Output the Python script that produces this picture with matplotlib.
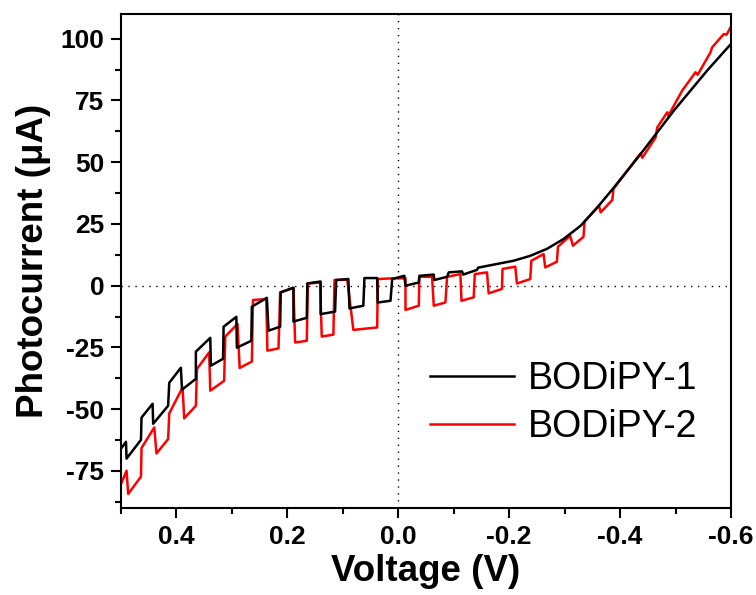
import matplotlib
matplotlib.use("Agg")
import matplotlib.pyplot as plt
from matplotlib.ticker import MultipleLocator, FormatStrFormatter

plt.rcParams['font.family'] = ['Liberation Sans', 'DejaVu Sans']
plt.rcParams['axes.unicode_minus'] = False

# BODiPY-1 (black) chopped-light I-V trace
v1 = [0.500, 0.491, 0.490, 0.464, 0.463, 0.443, 0.442, 0.415, 0.413, 0.392,
      0.390, 0.365, 0.365, 0.339, 0.338, 0.316, 0.315, 0.292, 0.291, 0.265,
      0.264, 0.237, 0.234, 0.213, 0.212, 0.189, 0.189, 0.165, 0.164, 0.140,
      0.140, 0.114, 0.112, 0.090, 0.088, 0.063, 0.061, 0.038, 0.037, 0.014,
      0.011, -0.011, -0.013, -0.037, -0.038, -0.064, -0.065, -0.088, -0.091, -0.115,
      -0.117, -0.142, -0.144, -0.178, -0.208, -0.238, -0.268, -0.298, -0.329, -0.359,
      -0.389, -0.437, -0.497, -0.557, -0.600]
i1 = [-66.0, -63.2, -70.0, -62.4, -53.4, -47.8, -55.9, -48.6, -39.3, -33.2,
      -42.1, -37.7, -26.7, -21.1, -32.4, -29.6, -16.6, -12.6, -25.1, -22.3,
      -8.5, -4.9, -18.2, -16.6, -2.7, -0.8, -14.5, -13.0, 0.9, 1.7,
      -11.5, -10.5, 2.3, 2.7, -9.2, -8.1, 3.1, 3.1, -6.8, -6.1,
      2.7, 4.0, 0.0, 1.3, 4.0, 4.5, 2.3, 3.6, 5.4, 5.8,
      4.5, 6.4, 7.3, 8.8, 10.1, 12.1, 14.9, 18.9, 24.3, 31.7,
      39.8, 53.3, 70.9, 87.1, 97.9]

# BODiPY-2 (red) chopped-light I-V trace
v2 = [0.500, 0.490, 0.487, 0.464, 0.463, 0.440, 0.436, 0.415, 0.413, 0.389,
      0.386, 0.365, 0.363, 0.341, 0.339, 0.314, 0.312, 0.290, 0.286, 0.264,
      0.262, 0.238, 0.236, 0.216, 0.213, 0.189, 0.186, 0.165, 0.163, 0.141,
      0.138, 0.117, 0.115, 0.092, 0.081, 0.038, 0.037, 0.008, -0.013, -0.013,
      -0.037, -0.038, -0.061, -0.064, -0.085, -0.088, -0.112, -0.114, -0.136, -0.138,
      -0.160, -0.163, -0.187, -0.188, -0.211, -0.214, -0.238, -0.240, -0.262, -0.265,
      -0.286, -0.288, -0.310, -0.315, -0.334, -0.336, -0.362, -0.365, -0.386, -0.388,
      -0.437, -0.440, -0.464, -0.467, -0.485, -0.487, -0.512, -0.536, -0.540, -0.563,
      -0.566, -0.587, -0.592, -0.600]
i2 = [-80.3, -74.9, -84.3, -77.3, -65.7, -57.4, -67.9, -62.1, -51.7, -41.2,
      -53.7, -48.6, -33.7, -27.0, -42.5, -38.5, -20.6, -15.5, -33.3, -30.7,
      -5.8, -5.4, -26.3, -25.4, -2.7, -0.9, -23.0, -22.3, 0.9, 1.3,
      -20.6, -19.8, 2.3, 2.4, -17.9, -16.9, 2.7, 3.0, 3.0, -9.8,
      -8.1, 3.6, 3.6, -8.1, -6.8, 3.6, 4.7, -6.1, -4.7, 4.7,
      5.4, -3.1, -1.3, 6.8, 7.7, 0.9, 2.7, 10.1, 12.8, 7.4,
      9.7, 15.8, 20.2, 16.2, 19.8, 26.0, 32.4, 29.7, 34.7, 39.2,
      53.6, 51.8, 60.0, 64.1, 70.2, 68.8, 79.0, 86.4, 85.4, 94.5,
      96.5, 101.9, 101.6, 104.9]

labels = ['BODiPY-1', 'BODiPY-2']
colors = ['black', '#ff0000']

fig = plt.figure(figsize=(7.56, 5.95), dpi=100)
ax = fig.add_axes([121/756, 1 - 508/595, (731 - 121)/756, (508 - 14)/595])

ax.axhline(0, color='black', lw=1.0, ls=(0, (1, 4)), zorder=1)
ax.axvline(0, color='black', lw=1.0, ls=(0, (1, 4)), zorder=1)

ax.plot(v1, i1, color=colors[0], lw=1.8, label=labels[0], zorder=3)
ax.plot(v2, i2, color=colors[1], lw=1.8, label=labels[1], zorder=2)

ax.set_xlim(0.5, -0.6)
ax.set_ylim(-90, 110)

ax.xaxis.set_major_locator(MultipleLocator(0.2))
ax.xaxis.set_minor_locator(MultipleLocator(0.1))
ax.yaxis.set_major_locator(MultipleLocator(25))
ax.yaxis.set_minor_locator(MultipleLocator(12.5))
ax.xaxis.set_major_formatter(FormatStrFormatter('%.1f'))
ax.yaxis.set_major_formatter(FormatStrFormatter('%d'))

ax.tick_params(which='both', direction='out', width=1.5, top=False, right=False)
ax.tick_params(which='major', length=7, labelsize=19, pad=5)
ax.tick_params(which='minor', length=4)
for lab in ax.get_xticklabels() + ax.get_yticklabels():
    lab.set_fontweight('bold')
for sp in ax.spines.values():
    sp.set_linewidth(1.5)

ax.set_xlabel('Voltage (V)', fontsize=26.5, fontweight='bold', labelpad=4)
ax.set_ylabel('Photocurrent (\u03bcA)', fontsize=26.5, fontweight='bold', labelpad=7)

leg = ax.legend(loc='upper left', bbox_to_anchor=(430/756, 1 - 361/595),
                bbox_transform=fig.transFigure, frameon=False, fontsize=27,
                handlelength=2.25, handletextpad=0.35, borderpad=0,
                borderaxespad=0, labelspacing=0.32)
for line in leg.get_lines():
    line.set_linewidth(1.8)

fig.savefig('out.png', dpi=100)
